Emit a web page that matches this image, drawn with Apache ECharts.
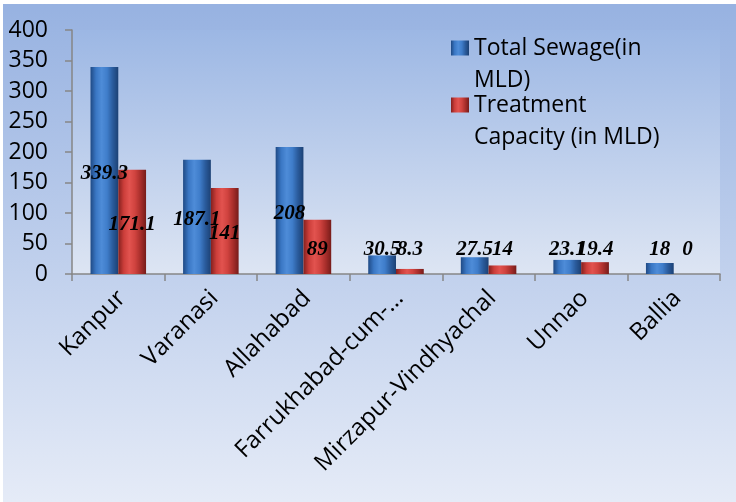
<!DOCTYPE html>
<html>
<head>
<meta charset="utf-8">
<script src="https://cdn.jsdelivr.net/npm/echarts@6/dist/echarts.min.js"></script>
<style>
html,body{margin:0;padding:0;background:#ffffff;}
#chart{position:absolute;left:3px;top:4px;width:733px;height:498px;}
</style>
</head>
<body>
<div id="chart"></div>
<script>
var categories = ['Kanpur', 'Varanasi', 'Allahabad', 'Farrukhabad-cum-…', 'Mirzapur-Vindhyachal', 'Unnao', 'Ballia'];
var totalSewage = [339.3, 187.1, 208, 30.5, 27.5, 23.1, 18];
var treatmentCapacity = [171.1, 141, 89, 8.3, 14, 19.4, 0];
var seriesNames = ['Total Sewage(in\nMLD)', 'Treatment\nCapacity (in MLD)'];
var yTicks = [0, 50, 100, 150, 200, 250, 300, 350, 400];

var SANS = '"Open Sans", "Noto Sans", sans-serif';

function grad(stops) {
  return new echarts.graphic.LinearGradient(0, 0, 1, 0, stops.map(function (c, i) {
    return { offset: i / (stops.length - 1), color: c };
  }));
}
var blueFill = grad(['#1f4a85', '#3a77c4', '#4e8cd8', '#3f7dca', '#2a5b9c', '#1c4174']);
var redFill = grad(['#84201e', '#cc3e3a', '#e2534f', '#d0433f', '#a82e2b', '#761c1a']);

function buildData(values) {
  return values.map(function (v) {
    var small = v < 40;
    return {
      value: v,
      label: small ? { position: 'insideBottom', distance: 5, offset: [0, -9] }
                   : { position: 'inside', offset: [0, 3] }
    };
  });
}

var labelStyle = {
  show: true,
  fontFamily: '"Liberation Serif", "Times New Roman", serif',
  fontStyle: 'italic',
  fontWeight: 'bold',
  fontSize: 21,
  color: '#000000'
};

var chart = echarts.init(document.getElementById('chart'));
chart.setOption({
  animation: false,
  backgroundColor: new echarts.graphic.LinearGradient(0, 0, 0, 1, [
    { offset: 0, color: '#97b2e1' },
    { offset: 1, color: '#e5ebf7' }
  ]),
  grid: {
    left: 69, right: 16, top: 26, bottom: 228,
    show: true,
    borderWidth: 0,
    backgroundColor: new echarts.graphic.LinearGradient(0, 0, 0, 1, [
      { offset: 0, color: '#9cb7e4' },
      { offset: 1, color: '#dde5f3' }
    ])
  },
  legend: {
    orient: 'vertical',
    left: 448,
    top: -4,
    padding: 0,
    itemGap: -39,
    itemWidth: 18,
    itemHeight: 15,
    icon: 'rect',
    data: seriesNames,
    formatter: function (name) { return '\n' + name; },
    textStyle: {
      fontFamily: SANS,
      fontSize: 23,
      color: '#000000',
      lineHeight: 32
    }
  },
  xAxis: {
    type: 'category',
    data: categories,
    axisLine: { lineStyle: { color: '#868686', width: 1.5 } },
    axisTick: { show: true, length: 7, lineStyle: { color: '#868686', width: 1.5 } },
    axisLabel: {
      interval: 0,
      rotate: 45,
      margin: 24,
      padding: [0, -5, 0, 0],
      fontFamily: SANS,
      fontSize: 24,
      color: '#000000'
    }
  },
  yAxis: {
    type: 'value',
    min: 0,
    max: 400,
    interval: 50,
    splitLine: { show: false },
    axisLine: { show: true, lineStyle: { color: '#868686', width: 1.5 } },
    axisTick: { show: true, length: 7, lineStyle: { color: '#868686', width: 1.5 } },
    axisLabel: {
      margin: 24,
      fontFamily: SANS,
      fontSize: 23,
      color: '#000000',
      formatter: function (v) { return yTicks.indexOf(v) >= 0 ? String(v) : ''; }
    }
  },
  series: [
    {
      name: seriesNames[0],
      type: 'bar',
      barGap: '0%',
      barCategoryGap: '40%',
      data: buildData(totalSewage),
      itemStyle: { color: blueFill },
      label: labelStyle
    },
    {
      name: seriesNames[1],
      type: 'bar',
      barGap: '0%',
      barCategoryGap: '40%',
      data: buildData(treatmentCapacity),
      itemStyle: { color: redFill },
      label: labelStyle
    }
  ]
});
</script>
</body>
</html>
